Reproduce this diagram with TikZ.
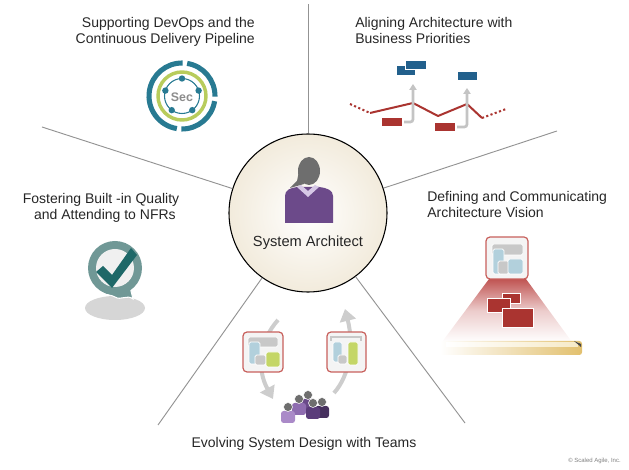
\documentclass[tikz,border=0pt]{standalone}
\usepackage{fontspec}
\setmainfont{Liberation Sans}
\usetikzlibrary{arrows.meta,shapes,backgrounds}
\definecolor{secteal}{RGB}{40,122,146}
\definecolor{seclime}{RGB}{184,204,92}
\definecolor{secgray}{RGB}{140,140,140}
\definecolor{prired}{RGB}{170,52,48}
\definecolor{priblue}{RGB}{34,96,140}
\definecolor{liftgray}{RGB}{196,196,196}
\definecolor{hubcream}{RGB}{242,235,220}
\definecolor{headgray}{RGB}{110,110,110}
\definecolor{archpurple}{RGB}{108,74,138}
\definecolor{collar}{RGB}{214,200,230}
\definecolor{qring}{RGB}{112,152,150}
\definecolor{qcheck}{RGB}{30,104,104}
\definecolor{qshadow}{RGB}{214,214,214}
\definecolor{framered}{RGB}{200,96,92}
\definecolor{framefill}{RGB}{244,244,244}
\definecolor{boxgray}{RGB}{200,200,200}
\definecolor{boxblue}{RGB}{178,208,220}
\definecolor{boxgreen}{RGB}{196,214,102}
\definecolor{beamred}{RGB}{192,84,82}
\definecolor{plank}{RGB}{226,192,110}
\definecolor{plankhi}{RGB}{246,234,200}
\definecolor{purL}{RGB}{170,138,200}
\definecolor{purM}{RGB}{142,108,176}
\definecolor{purB}{RGB}{106,74,138}
\definecolor{purD}{RGB}{90,60,122}
\definecolor{purK}{RGB}{70,48,94}
\tikzstyle{spoke} = [draw=gray!85, line width=0.7pt]
\tikzstyle{caption} = [font=\fontsize{10.5}{12.3}\selectfont, text=black!85, inner sep=0pt]
\tikzstyle{archframe} = [fill=framefill, draw=framered, line width=0.9pt, rounded corners=3pt]
\tikzstyle{part} = [draw=white, line width=0.6pt, rounded corners=1.2pt]
\tikzstyle{trend} = [draw=prired, line width=1.5pt]
\tikzstyle{lift} = [draw=liftgray, line width=2pt, rounded corners=2pt, -{Triangle[width=5.5pt,length=4.5pt]}]
\tikzstyle{loop} = [draw=liftgray!85, line width=3pt, -{Triangle[width=12pt,length=9pt]}]

\begin{document}
\begin{tikzpicture}[x=0.75pt, y=-0.75pt]
	\useasboundingbox (0,0) rectangle (629,470);

	% hub and spokes
	\node[circle, minimum size=118.5pt, inner sep=0pt, draw=black, line width=0.8pt,
		inner color=white, outer color=hubcream] (arch) at (308,213) {};
	\coordinate (n) at (308,4);
	\coordinate (nw) at (42,127);
	\coordinate (ne) at (557,131);
	\coordinate (sw) at (158,425);
	\coordinate (se) at (465,423);
	\foreach \c in {n,nw,ne,sw,se}
		\draw[spoke] (arch) -- (\c);

	% architect
	\fill[archpurple] (285,223) -- (285,196) .. controls (285,190) and (290,188) .. (297,187)
		-- (319,187) .. controls (327,188) and (333,190) .. (333,196) -- (333,223) -- cycle;
	\fill[collar] (297,187) -- (308,197) -- (319,187) -- (315,185) -- (308,191) -- (301,185) -- cycle;
	\fill[headgray] (300,166) -- (297,181) -- (290,188) -- (304,184) -- cycle;
	\fill[headgray] (309,171) ellipse (11 and 14);
	\node[caption, font=\fontsize{11}{13}\selectfont] (role) at (308,243) {System Architect};

	% captions
	\node[caption, align=right, anchor=north east] (devops) at (255,17) {Supporting DevOps and the\\Continuous Delivery Pipeline};
	\node[caption, align=left, anchor=north west] (business) at (355,17) {Aligning Architecture with\\Business Priorities};
	\node[caption, align=center, anchor=north] (quality) at (101,193) {Fostering Built -in Quality\\ \ \ and Attending to NFRs};
	\node[caption, align=left, anchor=north west] (vision) at (427,191) {Defining and Communicating\\Architecture Vision};
	\node[caption, anchor=north] (teams) at (304,437) {Evolving System Design with Teams};
	\node[inner sep=0pt, font=\fontsize{4.5}{5}\selectfont, text=gray, anchor=east] (copy) at (621,461) {\textcopyright\ Scaled Agile, Inc.};

	% DevOps ring
	\begin{scope}[shift={(182,96)}]
		\foreach \a/\b in {9/91,99/271,279/361}
			\draw[secteal, line width=3.8pt] (\a:33) arc (\a:\b:33);
		\draw[seclime, line width=2.6pt] (0,0) circle (24);
		\draw[secteal, line width=0.8pt] (0,0) circle (17.5);
		\foreach \a in {-90,-18,54,126,198}
			\fill[secteal] (\a:17.5) circle (3.2);
		\node[font=\bfseries\fontsize{9.3}{10}\selectfont, text=secgray] (sec) at (0,1) {Sec};
	\end{scope}

	% business priorities
	\draw[trend, dash pattern=on 1.6pt off 1.8pt] (350,104) -- (370,113);
	\draw[trend, line join=round] (370,113) -- (413,103) -- (438,116) -- (467,104) -- (482,118);
	\draw[trend, dash pattern=on 1.6pt off 1.8pt] (482,118) -- (506,109);
	\fill[prired] (382,118) rectangle (402,126);
	\fill[prired] (435,123) rectangle (455,131);
	\draw[lift] (404,122) -| (413,84);
	\draw[lift] (457,127) -| (467,88);
	\fill[priblue] (397,66) rectangle (415,75);
	\fill[priblue, draw=white, line width=0.6pt] (405,60) rectangle (426,69);
	\fill[priblue] (458,72) rectangle (477,80);

	% built-in quality
	\fill[qshadow] (115,308) ellipse (30 and 12);
	\fill[qring, draw=white, line width=0.8pt] (99,287) .. controls (103,297) and (109,293) .. (115,297)
		.. controls (121,301) and (127,294) .. (133,299) -- (130,287) -- cycle;
	\fill[qring] (115,268) circle (27);
	\fill[gray!12] (115,268) circle (19);
	\fill[qcheck] (96,272) -- (103,266) -- (112,275) -- (131,248) -- (137,255) -- (112,288) -- cycle;

	% architecture vision
	\shade[top color=beamred, bottom color=white, middle color=beamred!30] (489,279) -- (526,279) -- (572,342) -- (442,342) -- cycle;
	\shade[left color=white, right color=plank, rounded corners=2pt] (440,341) rectangle (582,355);
	\shade[left color=white, right color=plankhi] (446,343) rectangle (578,347);
	\fill[gray!55!black] (574,341) -- (581,344) -- (581,347) -- cycle;
	\fill[archframe] (486,237) rectangle (528,279);
	\begin{scope}[shift={(486,237)}]
		\fill[boxgray, part] (6,7) rectangle (37,18);
		\fill[boxblue, part] (7,12) rectangle (18,37);
		\fill[boxgray, part] (12,24) rectangle (23,37);
		\fill[boxblue, part] (22,22) rectangle (37,37);
	\end{scope}
	\fill[prired, draw=white, line width=0.6pt] (502,293) rectangle (520,303);
	\fill[prired, draw=white, line width=0.6pt] (487,298) rectangle (510,312);
	\fill[prired, draw=white, line width=0.6pt] (502,308) rectangle (533,327);

	% evolving design
	\draw[loop] (278,320) .. controls (260,340) and (256,368) .. (273,399);
	\draw[loop] (334,393) .. controls (350,375) and (354,345) .. (345,309);
	\fill[archframe] (243,332) rectangle (283,372);
	\begin{scope}[shift={(243,332)}]
		\fill[boxgray, part] (5,5) rectangle (35,15);
		\fill[boxblue, part] (6,10) rectangle (17,32);
		\fill[boxgray, part] (12,23) rectangle (23,33);
		\fill[boxgreen, part] (23,20) rectangle (37,35);
	\end{scope}
	\fill[archframe] (327,332) rectangle (366,372);
	\begin{scope}[shift={(327,332)}]
		\draw[boxgray, line width=1.2pt] (4,9) -- (4,5) -- (34,5) -- (34,9);
		\fill[boxblue, part] (6,10) rectangle (15,30);
		\fill[boxgray, part] (11,23) rectangle (20,32);
		\fill[boxgreen, part] (21,10) rectangle (31,33);
	\end{scope}
	\foreach \x/\y/\c in {308/395/purB, 299/399/purM, 322/402/purK, 288/407/purL, 313/403/purD} {
		\fill[\c, rounded corners=2pt] (\x-7,\y+4) rectangle (\x+7,\y+16);
		\fill[headgray, draw=white, line width=0.4pt] (\x,\y) circle (4.5);
	}
\end{tikzpicture}
\end{document}
